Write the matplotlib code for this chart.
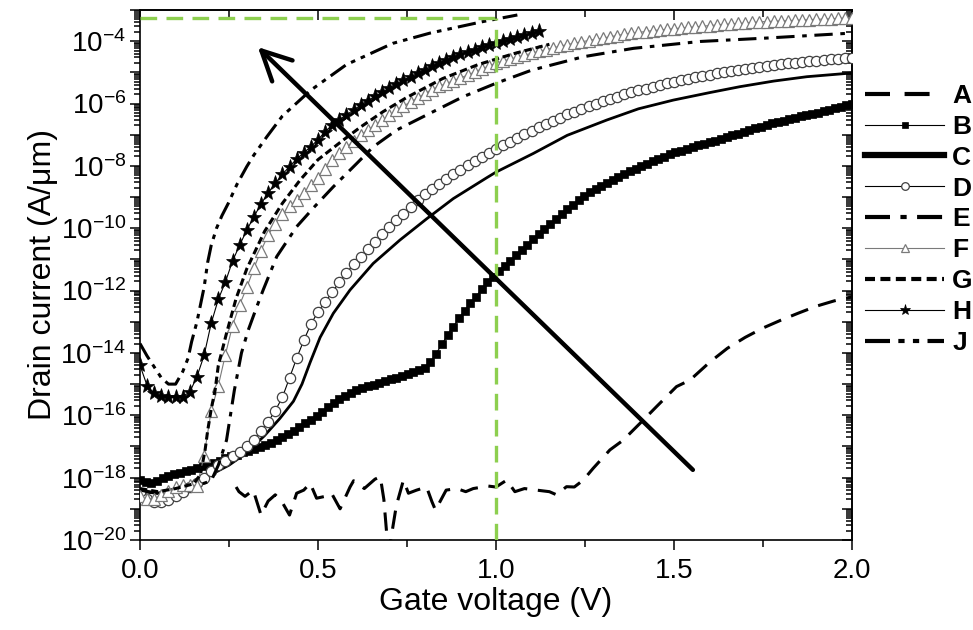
import numpy as np
import matplotlib
matplotlib.use("Agg")
import matplotlib.pyplot as plt
from matplotlib.lines import Line2D
from matplotlib.ticker import LogLocator, FixedLocator, FuncFormatter, NullFormatter

plt.rcParams['font.family'] = ['Liberation Sans', 'DejaVu Sans']
plt.rcParams['mathtext.default'] = 'regular'

# ---------------- data (drain current as log10 of A/um) ----------------
# gate-voltage grids for the marker series
vg_step = np.round(np.arange(101) * 0.02, 2)
vg_b = np.round(np.arange(126) * 0.016, 3)

# A: dashed, noisy floor then rise
a_vg = [0.270, 0.278, 0.295, 0.318, 0.340, 0.360, 0.380, 0.400, 0.420, 0.440,
        0.460, 0.478, 0.496, 0.520, 0.538, 0.562, 0.590, 0.600, 0.630, 0.660,
        0.675, 0.685, 0.693, 0.700, 0.720, 0.740, 0.754, 0.777, 0.805, 0.820,
        0.830, 0.860, 0.890, 0.915, 0.936, 0.978, 1.000, 1.030, 1.053, 1.080,
        1.114, 1.150, 1.170, 1.198, 1.220, 1.245, 1.273, 1.320, 1.357, 1.414,
        1.451, 1.507, 1.545, 1.600, 1.650, 1.700, 1.750, 1.800, 1.850, 1.900,
        1.950, 2.000]
a_log = [-18.30, -18.45, -18.60, -18.40, -19.20, -18.75, -18.55, -18.80, -19.20, -18.50,
         -18.40, -18.18, -18.66, -18.60, -18.50, -19.00, -18.30, -18.10, -18.35, -18.05,
         -17.97, -18.70, -19.80, -20.30, -18.90, -18.08, -18.50, -18.40, -18.30, -18.77,
         -19.04, -18.40, -18.35, -18.45, -18.35, -18.27, -18.30, -18.08, -18.45, -18.35,
         -18.40, -18.45, -18.55, -18.29, -18.30, -18.08, -17.70, -17.11, -16.80, -16.15,
         -15.72, -15.08, -14.87, -14.30, -13.85, -13.50, -13.20, -12.95, -12.72, -12.50,
         -12.33, -12.20]

# B: filled squares
b_log = [-18.08, -18.14, -18.17, -18.10, -18.02, -17.94, -17.89, -17.84, -17.79, -17.75,
         -17.70, -17.64, -17.58, -17.52, -17.45, -17.38, -17.32, -17.26, -17.19, -17.13,
         -17.07, -17.01, -16.95, -16.88, -16.80, -16.71, -16.61, -16.51, -16.39, -16.26,
         -16.14, -16.01, -15.88, -15.74, -15.60, -15.49, -15.38, -15.28, -15.19, -15.12,
         -15.07, -15.02, -14.96, -14.90, -14.84, -14.79, -14.73, -14.67, -14.61, -14.54,
         -14.47, -14.30, -14.02, -13.72, -13.43, -13.16, -12.89, -12.64, -12.41, -12.19,
         -11.96, -11.74, -11.55, -11.38, -11.21, -11.04, -10.87, -10.70, -10.53, -10.36,
         -10.19, -10.02, -9.86, -9.70, -9.54, -9.38, -9.24, -9.10, -8.97, -8.85,
         -8.74, -8.64, -8.55, -8.45, -8.36, -8.27, -8.18, -8.09, -8.01, -7.93,
         -7.85, -7.77, -7.70, -7.63, -7.57, -7.51, -7.45, -7.40, -7.34, -7.29,
         -7.24, -7.19, -7.13, -7.08, -7.02, -6.97, -6.91, -6.86, -6.80, -6.75,
         -6.69, -6.64, -6.59, -6.55, -6.50, -6.46, -6.41, -6.37, -6.33, -6.29,
         -6.24, -6.20, -6.15, -6.11, -6.06, -6.02]

# C: solid line
c_vg = [0.00, 0.05, 0.10, 0.15, 0.20, 0.25, 0.30, 0.35, 0.393, 0.431,
        0.455, 0.478, 0.506, 0.543, 0.590, 0.655, 0.730, 0.805, 0.880, 0.974,
        1.000, 1.105, 1.20, 1.311, 1.40, 1.498, 1.60, 1.685, 1.78, 1.873, 2.00]
c_log = [-18.45, -18.50, -18.35, -18.15, -17.90, -17.60, -17.20, -16.65, -16.10, -15.55,
         -15.00, -14.30, -13.50, -12.73, -11.98, -11.13, -10.38, -9.70, -9.05, -8.38,
         -8.20, -7.60, -7.02, -6.53, -6.17, -5.89, -5.65, -5.46, -5.28, -5.14, -5.02]

# D: open circles
d_log = [-18.50, -18.70, -18.78, -18.78, -18.72, -18.60, -18.45, -18.30, -18.17, -18.02,
         -17.78, -17.60, -17.45, -17.32, -17.18, -17.00, -16.78, -16.50, -16.20, -15.85,
         -15.42, -14.80, -14.17, -13.60, -13.08, -12.68, -12.36, -12.05, -11.72, -11.43,
         -11.16, -10.91, -10.66, -10.43, -10.20, -9.97, -9.75, -9.53, -9.31, -9.10,
         -8.91, -8.73, -8.57, -8.42, -8.27, -8.12, -7.97, -7.84, -7.70, -7.58,
         -7.46, -7.34, -7.22, -7.10, -6.98, -6.87, -6.76, -6.65, -6.55, -6.45,
         -6.35, -6.26, -6.17, -6.08, -6.00, -5.92, -5.85, -5.78, -5.71, -5.64,
         -5.58, -5.52, -5.46, -5.40, -5.35, -5.30, -5.25, -5.20, -5.15, -5.11,
         -5.07, -5.03, -4.99, -4.95, -4.91, -4.88, -4.85, -4.82, -4.79, -4.76,
         -4.73, -4.71, -4.69, -4.66, -4.64, -4.62, -4.60, -4.58, -4.57, -4.55,
         -4.54]

# E: dash-dot line
e_vg = [0.00, 0.05, 0.10, 0.15, 0.20, 0.22, 0.243, 0.265, 0.285, 0.304,
        0.328, 0.346, 0.384, 0.44, 0.491, 0.543, 0.609, 0.655, 0.721, 0.815,
        0.908, 1.00, 1.10, 1.245, 1.386, 1.573, 1.76, 2.00]
e_log = [-18.40, -18.50, -18.40, -18.30, -18.10, -17.60, -16.80, -15.20, -14.00, -13.27,
         -12.52, -11.98, -10.91, -9.95, -9.30, -8.67, -7.92, -7.39, -6.85, -6.31,
         -5.78, -5.35, -4.93, -4.50, -4.23, -4.01, -3.90, -3.74]

# F: open triangles (grey)
f_log = [-18.60, -18.70, -18.68, -18.55, -18.42, -18.30, -18.22, -18.22, -18.28, -17.30,
         -15.85, -15.05, -14.05, -13.12, -12.45, -11.90, -11.28, -10.72, -10.22, -9.85,
         -9.55, -9.30, -9.08, -8.86, -8.62, -8.40, -8.10, -7.80, -7.60, -7.40,
         -7.20, -7.01, -6.85, -6.69, -6.54, -6.38, -6.22, -6.08, -5.95, -5.82,
         -5.68, -5.55, -5.45, -5.36, -5.27, -5.18, -5.09, -4.99, -4.89, -4.80,
         -4.71, -4.64, -4.58, -4.51, -4.45, -4.39, -4.33, -4.27, -4.22, -4.16,
         -4.11, -4.07, -4.02, -3.98, -3.94, -3.90, -3.86, -3.82, -3.78, -3.75,
         -3.72, -3.69, -3.66, -3.64, -3.62, -3.60, -3.58, -3.56, -3.54, -3.52,
         -3.50, -3.48, -3.46, -3.45, -3.43, -3.42, -3.40, -3.38, -3.37, -3.36,
         -3.35, -3.34, -3.33, -3.32, -3.31, -3.30, -3.29, -3.28, -3.27, -3.26,
         -3.25]

# G: short-dash line
g_vg = [0.00, 0.05, 0.10, 0.15, 0.17, 0.183, 0.19, 0.20, 0.211, 0.22,
        0.243, 0.27, 0.30, 0.35, 0.40, 0.45, 0.50, 0.571, 0.62, 0.683,
        0.75, 0.85, 0.95, 1.05, 1.15]
g_log = [-18.35, -18.45, -18.35, -18.20, -17.90, -17.10, -16.50, -15.80, -15.19, -14.40,
         -13.37, -12.25, -11.30, -10.10, -9.20, -8.45, -7.80, -7.17, -6.75, -6.26,
         -5.80, -5.20, -4.75, -4.40, -4.10]

# H: filled stars (sweep ends at 1.12 V)
h_log = [-14.40, -15.05, -15.30, -15.38, -15.40, -15.42, -15.40, -15.25, -14.76, -14.08,
         -13.05, -12.28, -11.72, -11.05, -10.54, -10.06, -9.63, -9.22, -8.86, -8.56,
         -8.27, -8.02, -7.78, -7.58, -7.38, -7.16, -6.90, -6.69, -6.52, -6.36,
         -6.21, -6.05, -5.91, -5.77, -5.64, -5.50, -5.36, -5.25, -5.14, -5.03,
         -4.91, -4.80, -4.70, -4.60, -4.51, -4.42, -4.34, -4.27, -4.20, -4.13,
         -4.07, -4.01, -3.94, -3.88, -3.81, -3.75, -3.68]

# J: dash-dot-dot line
j_vg = [0.00, 0.02, 0.04, 0.06, 0.08, 0.10, 0.12, 0.135, 0.145, 0.16,
        0.17, 0.18, 0.19, 0.20, 0.215, 0.23, 0.248, 0.272, 0.30, 0.32,
        0.356, 0.40, 0.48, 0.58, 0.71, 0.815, 0.964, 1.06]
j_log = [-13.70, -14.10, -14.45, -14.80, -15.00, -15.00, -14.60, -14.17, -13.64, -13.00,
         -12.45, -11.90, -11.10, -10.55, -10.00, -9.60, -9.20, -8.60, -8.02, -7.65,
         -7.07, -6.40, -5.57, -4.75, -4.07, -3.74, -3.37, -3.16]

labels = ['A', 'B', 'C', 'D', 'E', 'F', 'G', 'H', 'J']

# reference guides and trend arrow
vg_ref = 1.0
id_ref = 5.5e-4
arrow_tail = (1.553, 10 ** -17.75)
arrow_head = (0.331, 10 ** -4.19)

# ---------------- styles ----------------
GREY = '#7a7a7a'
style = {
    'A': dict(color='k', lw=2.2, dashes=(6, 3.5)),
    'B': dict(color='k', lw=0.8, marker='s', ms=6.0, mfc='k', mec='k', mew=0.5),
    'C': dict(color='k', lw=2.0),
    'D': dict(color='k', lw=0.8, marker='o', ms=7.4, mfc='white', mec='#404040', mew=0.9),
    'E': dict(color='k', lw=2.2, dashes=(6, 2.5, 1.5, 2.5)),
    'F': dict(color=GREY, lw=0.8, marker='^', ms=8.2, mfc='white', mec=GREY, mew=0.9),
    'G': dict(color='k', lw=2.2, dashes=(2.4, 1.3)),
    'H': dict(color='k', lw=0.8, marker='*', ms=11, mfc='k', mec='k', mew=0.5),
    'J': dict(color='k', lw=2.2, dashes=(6, 2, 1.5, 2, 1.5, 2)),
}
legend_ms = {'B': 5.0, 'D': 5.5, 'F': 6.0, 'H': 8.0}

series = {
    'A': (a_vg, a_log),
    'B': (vg_b, b_log),
    'C': (c_vg, c_log),
    'D': (vg_step, d_log),
    'E': (e_vg, e_log),
    'F': (vg_step, f_log),
    'G': (g_vg, g_log),
    'H': (vg_step[:len(h_log)], h_log),
    'J': (j_vg, j_log),
}

fig = plt.figure(figsize=(9.73, 6.3), dpi=100)
ax = fig.add_axes([140 / 973, 1 - 540 / 630, 712 / 973, 530 / 630])

for name in labels:
    xv, lv = series[name]
    ax.plot(np.asarray(xv), 10.0 ** np.asarray(lv), zorder=3, **style[name])

# green guide lines
guide = dict(color='#8dcf4f', lw=2.4, dashes=(5, 2.8), zorder=5)
ax.plot([0, vg_ref], [id_ref, id_ref], **guide)
ax.plot([vg_ref, vg_ref], [1e-20, id_ref], **guide)

# trend arrow
ax.annotate('', xy=arrow_head, xytext=arrow_tail,
            arrowprops=dict(arrowstyle='->,head_length=1.0,head_width=0.5',
                            mutation_scale=21, lw=3.2, color='k',
                            shrinkA=0, shrinkB=0),
            zorder=6)

ax.set_yscale('log')
ax.set_xlim(0, 2.0)
ax.set_ylim(1e-20, 1e-3)

# axes ticks
x_major = [0, 0.5, 1.0, 1.5, 2.0]
x_minor = [0.25, 0.75, 1.25, 1.75]
y_major = [10.0 ** k for k in range(-20, -2)]


def ylab(v, p):
    k = int(round(np.log10(v)))
    return r'$10^{%d}$' % k if k % 2 == 0 else ''


ax.xaxis.set_major_locator(FixedLocator(x_major))
ax.xaxis.set_minor_locator(FixedLocator(x_minor))
ax.xaxis.set_major_formatter(FuncFormatter(lambda v, p: f'{v:.1f}'))
ax.yaxis.set_major_locator(FixedLocator(y_major))
ax.yaxis.set_minor_locator(LogLocator(base=10, subs=np.arange(2, 10), numticks=40))
ax.yaxis.set_minor_formatter(NullFormatter())
ax.yaxis.set_major_formatter(FuncFormatter(ylab))

ax.tick_params(axis='both', which='both', direction='out', width=1.1,
               labelsize=20, colors='k', top=False, right=False)
ax.tick_params(axis='x', which='major', length=7, pad=6)
ax.tick_params(axis='x', which='minor', length=5)
ax.tick_params(axis='y', which='major', length=7, pad=3)
ax.tick_params(axis='y', which='minor', length=4)

# mirrored top/right axes with inward ticks
top = ax.secondary_xaxis('top')
top.xaxis.set_major_locator(FixedLocator(x_major))
top.xaxis.set_minor_locator(FixedLocator(x_minor))
top.tick_params(axis='x', which='both', direction='in', width=1.1, labeltop=False)
top.tick_params(axis='x', which='major', length=7)
top.tick_params(axis='x', which='minor', length=5)

right = ax.secondary_yaxis('right')
right.yaxis.set_major_locator(FixedLocator(y_major))
right.yaxis.set_minor_locator(LogLocator(base=10, subs=np.arange(2, 10), numticks=40))
right.yaxis.set_minor_formatter(NullFormatter())
right.tick_params(axis='y', which='both', direction='in', width=1.1, labelright=False)
right.tick_params(axis='y', which='major', length=7)
right.tick_params(axis='y', which='minor', length=4)

for a in (ax, top, right):
    for sp in a.spines.values():
        sp.set_linewidth(1.2)

ax.set_xlabel('Gate voltage (V)', fontsize=23, labelpad=2)
ax.set_ylabel('Drain current (A/μm)', fontsize=23, labelpad=2)

# legend
handles = []
for name in labels:
    st = dict(style[name])
    if name in ('A', 'E', 'G', 'J'):
        st['lw'] = 3.0
    if name == 'C':
        st['lw'] = 4.5
    if name in legend_ms:
        st['ms'] = legend_ms[name]
    handles.append(Line2D([], [], **st))
fig.legend(handles, labels, loc='upper left',
           bbox_to_anchor=(865 / 973, 1 - 84 / 630),
           frameon=False, handlelength=3.0, handletextpad=0.3,
           labelspacing=0.26, borderpad=0, borderaxespad=0,
           prop=dict(size=19, weight='bold'))

fig.savefig('out.png', dpi=100)
